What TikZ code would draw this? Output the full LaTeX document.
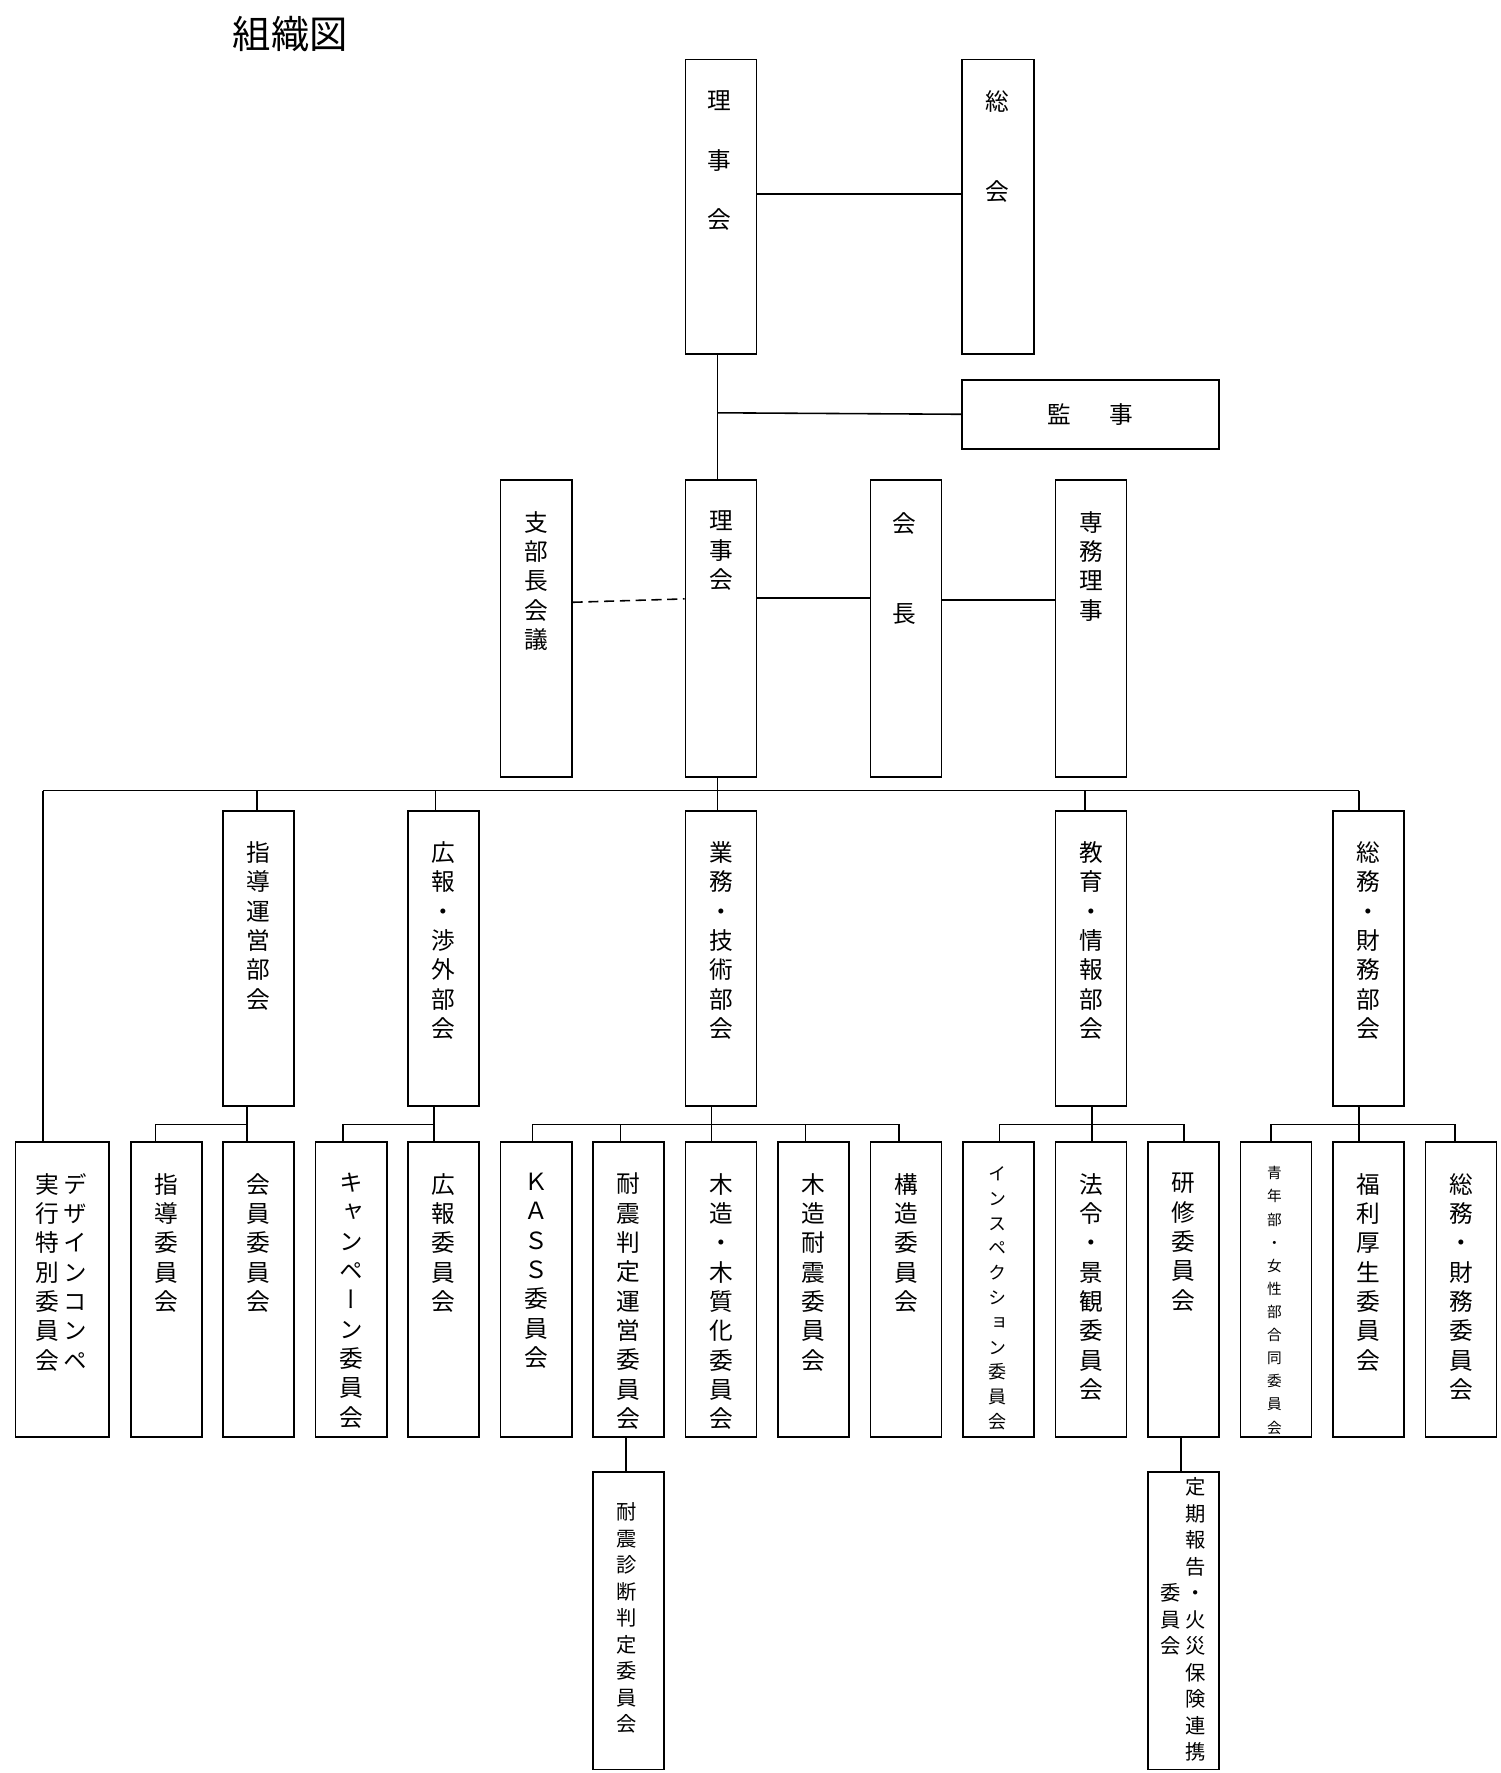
\documentclass[tikz,border=0pt]{standalone}
\usepackage{fontspec}
\newfontfamily\jp[RawFeature=+vert]{Noto Sans CJK JP}
\newfontfamily\jph{Noto Sans CJK JP}
\usetikzlibrary{positioning}
\tikzset{box/.style={draw, line width=1.6pt, inner sep=0pt, anchor=north west}}
\tikzset{vtext/.style={font=\jp\fontsize{21}{26}\selectfont, align=center, inner sep=0pt, anchor=north}}
\tikzset{conn/.style={line width=1.4pt}}
% \bx{name}{x1}{y1}{x2}{y2}{text}
\newcommand\bx[6]{%
  \node[box, minimum width=#4pt-#2pt, minimum height=#5pt-#3pt] (#1) at (#2,#3) {};
  \node[vtext, below=28pt of #1.north, anchor=north] (#1t) {#6};
}
\begin{document}
\begin{tikzpicture}[x=1pt,y=-1pt]
\useasboundingbox (0,0) rectangle (1330,1572);
\node[font=\jph\fontsize{34}{40}\selectfont, anchor=west] (title) at (203,30) {組織図};

% top
\bx{riji}{607}{52}{670}{313}{}
\node[vtext, font=\jp\fontsize{21}{53}\selectfont] (rijit) at (638,80) {理\\事\\会};
\bx{sokai}{852}{52}{916}{313}{}
\node[vtext, font=\jp\fontsize{21}{80}\selectfont] (sokait) at (884,80) {総\\会};
\draw[conn] (riji.east |- 0,172) -- (sokai.west |- 0,172);
\node[box, minimum width=228pt, minimum height=61pt] (kanji) at (852,336) {};
\node[font=\jph\fontsize{21}{26}\selectfont] (kanjit) at (kanji.center) {監\hspace{1.6em}事};

% row 2
\bx{shibu}{443}{425}{506}{688}{支\\部\\長\\会\\議}
\bx{rijikai}{607}{425}{670}{688}{理\\事\\会}
\bx{kaicho}{771}{425}{834}{688}{}
\node[vtext, font=\jp\fontsize{21}{80}\selectfont] (kaichot) at (802,454) {会\\長};
\bx{senmu}{935}{425}{998}{688}{専\\務\\理\\事}
\draw[conn] (riji.south -| 636,0) -- (rijikai.north -| 636,0);
\draw[conn] (636,366) -- (kanji.west);
\draw[conn, dashed, dash pattern=on 9pt off 5pt] (shibu.east |- 0,534) -- (rijikai.west |- 0,531);
\draw[conn] (rijikai.east |- 0,530) -- (kaicho.west |- 0,530);
\draw[conn] (kaicho.east |- 0,532) -- (senmu.west |- 0,532);

% row 3
\bx{shido}{197}{718}{260}{980}{指\\導\\運\\営\\部\\会}
\bx{koho}{361}{718}{424}{980}{広\\報\\・\\渉\\外\\部\\会}
\bx{gyomu}{607}{718}{670}{980}{業\\務\\・\\技\\術\\部\\会}
\bx{kyoiku}{935}{718}{998}{980}{教\\育\\・\\情\\報\\部\\会}
\bx{somu}{1181}{718}{1244}{980}{総\\務\\・\\財\\務\\部\\会}
\draw[conn] (rijikai.south -| 636,0) -- (636,701);
\draw[conn] (38,701) -- (1205,701);
\foreach \n/\x in {shido/228,koho/386,gyomu/636,kyoiku/962,somu/1205}
  \draw[conn] (\x,701) -- (\n.north -| \x,0);

% row 4
\node[box, minimum width=83pt, minimum height=261pt] (design) at (13,1012) {};
\node[vtext] (designt) at (67,1040) {デ\\ザ\\イ\\ン\\コ\\ン\\ペ};
\node[vtext] (designt2) at (42,1040) {実\\行\\特\\別\\委\\員\\会};
\draw[conn] (38,701) -- (design.north -| 38,0);
\bx{shidoi}{115}{1012}{178}{1273}{指\\導\\委\\員\\会}
\bx{kaiin}{197}{1012}{260}{1273}{会\\員\\委\\員\\会}
\bx{camp}{279}{1012}{342}{1273}{キ\\ャ\\ン\\ペ\\ー\\ン\\委\\員\\会}
\bx{kohoi}{361}{1012}{424}{1273}{広\\報\\委\\員\\会}
\bx{kass}{443}{1012}{506}{1273}{Ｋ\\Ａ\\Ｓ\\Ｓ\\委\\員\\会}
\bx{taishin}{525}{1012}{588}{1273}{耐\\震\\判\\定\\運\\営\\委\\員\\会}
\bx{mokuzo}{607}{1012}{670}{1273}{木\\造\\・\\木\\質\\化\\委\\員\\会}
\bx{mokutai}{689}{1012}{752}{1273}{木\\造\\耐\\震\\委\\員\\会}
\bx{kozo}{771}{1012}{834}{1273}{構\\造\\委\\員\\会}
\node[box, minimum width=63pt, minimum height=261pt] (insp) at (853,1012) {};
\node[vtext, font=\jp\fontsize{16}{22}\selectfont] (inspt) at (884,1034) {イ\\ン\\ス\\ペ\\ク\\シ\\ョ\\ン\\委\\員\\会};
\bx{horei}{935}{1012}{998}{1273}{法\\令\\・\\景\\観\\委\\員\\会}
\bx{kenshu}{1017}{1012}{1080}{1273}{研\\修\\委\\員\\会}
\node[box, minimum width=63pt, minimum height=261pt] (seinen) at (1099,1012) {};
\node[vtext, font=\jp\fontsize{13}{20.5}\selectfont] (seinent) at (1130,1034) {青\\年\\部\\・\\女\\性\\部\\合\\同\\委\\員\\会};
\bx{fukuri}{1181}{1012}{1244}{1273}{福\\利\\厚\\生\\委\\員\\会}
\bx{somui}{1263}{1012}{1326}{1273}{総\\務\\・\\財\\務\\委\\員\\会}

\draw[conn] (shido.south -| 219,0) -- (219,997);
\draw[conn] (138,997) -- (219,997);
\foreach \n/\x in {shidoi/138,kaiin/219} \draw[conn] (\x,997) -- (\n.north -| \x,0);
\draw[conn] (koho.south -| 385,0) -- (385,997);
\draw[conn] (304,997) -- (385,997);
\foreach \n/\x in {camp/304,kohoi/385} \draw[conn] (\x,997) -- (\n.north -| \x,0);
\draw[conn] (gyomu.south -| 631,0) -- (631,997);
\draw[conn] (472,997) -- (797,997);
\foreach \n/\x in {kass/472,taishin/550,mokuzo/631,mokutai/714,kozo/797} \draw[conn] (\x,997) -- (\n.north -| \x,0);
\draw[conn] (kyoiku.south -| 968,0) -- (968,997);
\draw[conn] (886,997) -- (1050,997);
\foreach \n/\x in {insp/886,horei/968,kenshu/1050} \draw[conn] (\x,997) -- (\n.north -| \x,0);
\draw[conn] (somu.south -| 1205,0) -- (1205,997);
\draw[conn] (1127,997) -- (1290,997);
\foreach \n/\x in {seinen/1127,fukuri/1205,somui/1290} \draw[conn] (\x,997) -- (\n.north -| \x,0);

% row 5
\node[box, minimum width=63pt, minimum height=264pt] (shindan) at (525,1304) {};
\node[vtext, font=\jp\fontsize{18}{23.5}\selectfont] (shindant) at (556,1332) {耐\\震\\診\\断\\判\\定\\委\\員\\会};
\draw[conn] (taishin.south -| 555,0) -- (shindan.north -| 555,0);
\node[box, minimum width=63pt, minimum height=264pt] (teiki) at (1017,1304) {};
\node[vtext, font=\jp\fontsize{18}{23.5}\selectfont] (teikit) at (1060,1310) {定\\期\\報\\告\\・\\火\\災\\保\\険\\連\\携};
\node[vtext, font=\jp\fontsize{18}{23.5}\selectfont] (teikit2) at (1038,1404) {委\\員\\会};
\draw[conn] (kenshu.south -| 1047,0) -- (teiki.north -| 1047,0);
\end{tikzpicture}
\end{document}
